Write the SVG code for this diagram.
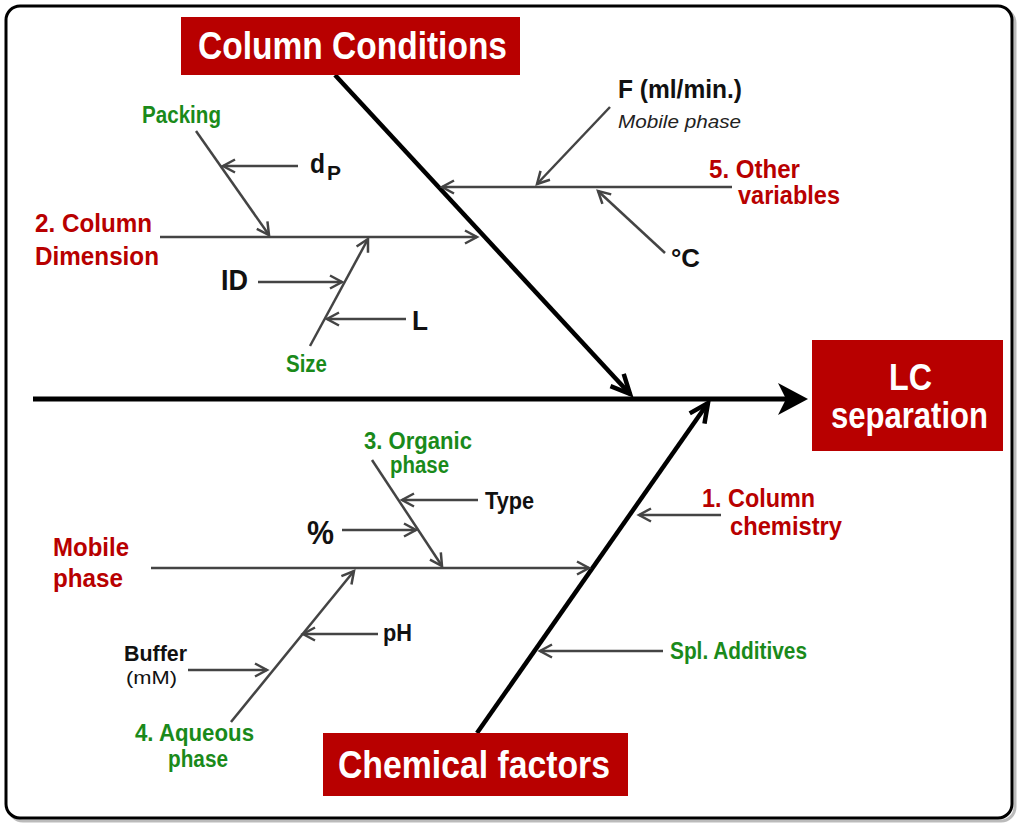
<svg xmlns="http://www.w3.org/2000/svg" width="1024" height="830" viewBox="0 0 1024 830">
<defs>
<style>
.t{font-family:"Liberation Sans",Arial,sans-serif;font-weight:bold}
.red{fill:#b80000}
.grn{fill:#1a8a1a}
.blk{fill:#111}
.wht{fill:#fff}
.box{fill:#b80000}
.br{stroke:#444;stroke-width:2.5;fill:none;marker-end:url(#ga)}
.sp{stroke:#000;stroke-width:4.5;fill:none;marker-end:url(#ba)}
</style>
<marker id="ga" markerUnits="userSpaceOnUse" viewBox="-16 -10 20 20" markerWidth="20" markerHeight="20" refX="0" refY="0" orient="auto">
<path d="M-12,-6.5 L0,0 L-12,6.5" fill="none" stroke="#444" stroke-width="2.5"/>
</marker>
<marker id="ba" markerUnits="userSpaceOnUse" viewBox="-24 -14 30 28" markerWidth="30" markerHeight="28" refX="0" refY="0" orient="auto">
<path d="M-19,-9 L0,0 L-19,9" fill="none" stroke="#000" stroke-width="4.5"/>
</marker>
</defs>
<rect x="0" y="0" width="1024" height="830" fill="#fff"/>
<rect x="9" y="9" width="1006" height="812" rx="14" fill="none" stroke="#bbb" stroke-width="3"/>
<rect x="6" y="6" width="1006" height="812" rx="14" fill="#fff" stroke="#000" stroke-width="3"/>

<g id="connectors">
<line x1="33" y1="399" x2="790" y2="399" stroke="#000" stroke-width="5"/>
<polygon points="808,399 778,383 786,399 778,415" fill="#000"/>
<line class="sp" x1="335" y1="75" x2="630" y2="394"/>
<line class="sp" x1="477" y1="733" x2="708" y2="403"/>
<line class="br" x1="160" y1="237" x2="477" y2="237"/>
<line class="br" x1="196" y1="131" x2="269" y2="235"/>
<line class="br" x1="298" y1="166" x2="223" y2="166"/>
<line class="br" x1="310" y1="346" x2="368" y2="239"/>
<line class="br" x1="258" y1="282" x2="342" y2="282"/>
<line class="br" x1="406" y1="319" x2="327" y2="319"/>
<line class="br" x1="732" y1="187" x2="442" y2="187"/>
<line class="br" x1="610" y1="107" x2="537" y2="184"/>
<line class="br" x1="665" y1="253" x2="598" y2="191"/>
<line class="br" x1="151" y1="568" x2="589" y2="568"/>
<line class="br" x1="372" y1="460" x2="442" y2="566"/>
<line class="br" x1="478" y1="500" x2="402" y2="500"/>
<line class="br" x1="342" y1="530" x2="416" y2="530"/>
<line class="br" x1="231" y1="722" x2="354" y2="571"/>
<line class="br" x1="378" y1="634" x2="303" y2="634"/>
<line class="br" x1="188" y1="670" x2="267" y2="670"/>
<line class="br" x1="721" y1="515" x2="639" y2="515"/>
<line class="br" x1="663" y1="651" x2="540" y2="651"/>
</g>

<g id="column-conditions">
<rect class="box" x="181" y="17" width="339" height="58"/>
<text class="t wht" x="198" y="59" font-size="38" textLength="309" lengthAdjust="spacingAndGlyphs">Column Conditions</text>
</g>
<g id="lc-separation">
<rect class="box" x="812" y="340" width="191" height="111"/>
<text class="t wht" x="889" y="390" font-size="36" textLength="43" lengthAdjust="spacingAndGlyphs">LC</text>
<text class="t wht" x="831" y="428" font-size="36" textLength="157" lengthAdjust="spacingAndGlyphs">separation</text>
</g>
<g id="chemical-factors">
<rect class="box" x="323" y="733" width="305" height="63"/>
<text class="t wht" x="338" y="778" font-size="38" textLength="272" lengthAdjust="spacingAndGlyphs">Chemical factors</text>
</g>

<g id="column-dimension">
<text class="t red" x="35" y="232" font-size="26" textLength="117" lengthAdjust="spacingAndGlyphs">2. Column</text>
<text class="t red" x="35" y="265" font-size="26" textLength="124" lengthAdjust="spacingAndGlyphs">Dimension</text>
</g>
<g id="packing"><text class="t grn" x="142" y="123" font-size="23" textLength="79" lengthAdjust="spacingAndGlyphs">Packing</text></g>
<g id="dp"><text class="t blk" x="310" y="173" font-size="28" textLength="15" lengthAdjust="spacingAndGlyphs">d</text><text class="t blk" x="327" y="180" font-size="20" textLength="14" lengthAdjust="spacingAndGlyphs">P</text></g>
<g id="id"><text class="t blk" x="221" y="290" font-size="30" textLength="27" lengthAdjust="spacingAndGlyphs">ID</text></g>
<g id="l"><text class="t blk" x="412" y="330" font-size="28" textLength="16" lengthAdjust="spacingAndGlyphs">L</text></g>
<g id="size"><text class="t grn" x="286" y="372" font-size="23" textLength="41" lengthAdjust="spacingAndGlyphs">Size</text></g>

<g id="flow">
<text class="t blk" x="618" y="98" font-size="25" textLength="124" lengthAdjust="spacingAndGlyphs">F (ml/min.)</text>
<text x="618" y="128" font-family="Liberation Sans, Arial, sans-serif" font-style="italic" font-size="18" fill="#222" textLength="123" lengthAdjust="spacingAndGlyphs">Mobile phase</text>
</g>
<g id="other-variables">
<text class="t red" x="709" y="178" font-size="25" textLength="91" lengthAdjust="spacingAndGlyphs">5. Other</text>
<text class="t red" x="738" y="204" font-size="25" textLength="102" lengthAdjust="spacingAndGlyphs">variables</text>
</g>
<g id="temp"><text class="t blk" x="671" y="267" font-size="26" textLength="29" lengthAdjust="spacingAndGlyphs">°C</text></g>

<g id="organic-phase">
<text class="t grn" x="364" y="449" font-size="23" textLength="108" lengthAdjust="spacingAndGlyphs">3. Organic</text>
<text class="t grn" x="390" y="473" font-size="23" textLength="59" lengthAdjust="spacingAndGlyphs">phase</text>
</g>
<g id="type"><text class="t blk" x="485" y="509" font-size="24" textLength="49" lengthAdjust="spacingAndGlyphs">Type</text></g>
<g id="percent"><text class="t blk" x="307" y="544" font-size="34" textLength="27" lengthAdjust="spacingAndGlyphs">%</text></g>
<g id="mobile-phase">
<text class="t red" x="53" y="556" font-size="26" textLength="76" lengthAdjust="spacingAndGlyphs">Mobile</text>
<text class="t red" x="53" y="587" font-size="26" textLength="70" lengthAdjust="spacingAndGlyphs">phase</text>
</g>
<g id="ph"><text class="t blk" x="383" y="641" font-size="24" textLength="29" lengthAdjust="spacingAndGlyphs">pH</text></g>
<g id="buffer">
<text class="t blk" x="124" y="661" font-size="22" textLength="63" lengthAdjust="spacingAndGlyphs">Buffer</text>
<text x="126" y="684" font-family="Liberation Sans, Arial, sans-serif" font-size="18" fill="#111" textLength="51" lengthAdjust="spacingAndGlyphs">(mM)</text>
</g>
<g id="aqueous-phase">
<text class="t grn" x="135" y="741" font-size="23" textLength="119" lengthAdjust="spacingAndGlyphs">4. Aqueous</text>
<text class="t grn" x="168" y="767" font-size="23" textLength="60" lengthAdjust="spacingAndGlyphs">phase</text>
</g>
<g id="column-chemistry">
<text class="t red" x="702" y="507" font-size="26" textLength="113" lengthAdjust="spacingAndGlyphs">1. Column</text>
<text class="t red" x="730" y="535" font-size="26" textLength="112" lengthAdjust="spacingAndGlyphs">chemistry</text>
</g>
<g id="additives"><text class="t grn" x="670" y="659" font-size="24" textLength="137" lengthAdjust="spacingAndGlyphs">Spl. Additives</text></g>
</svg>
